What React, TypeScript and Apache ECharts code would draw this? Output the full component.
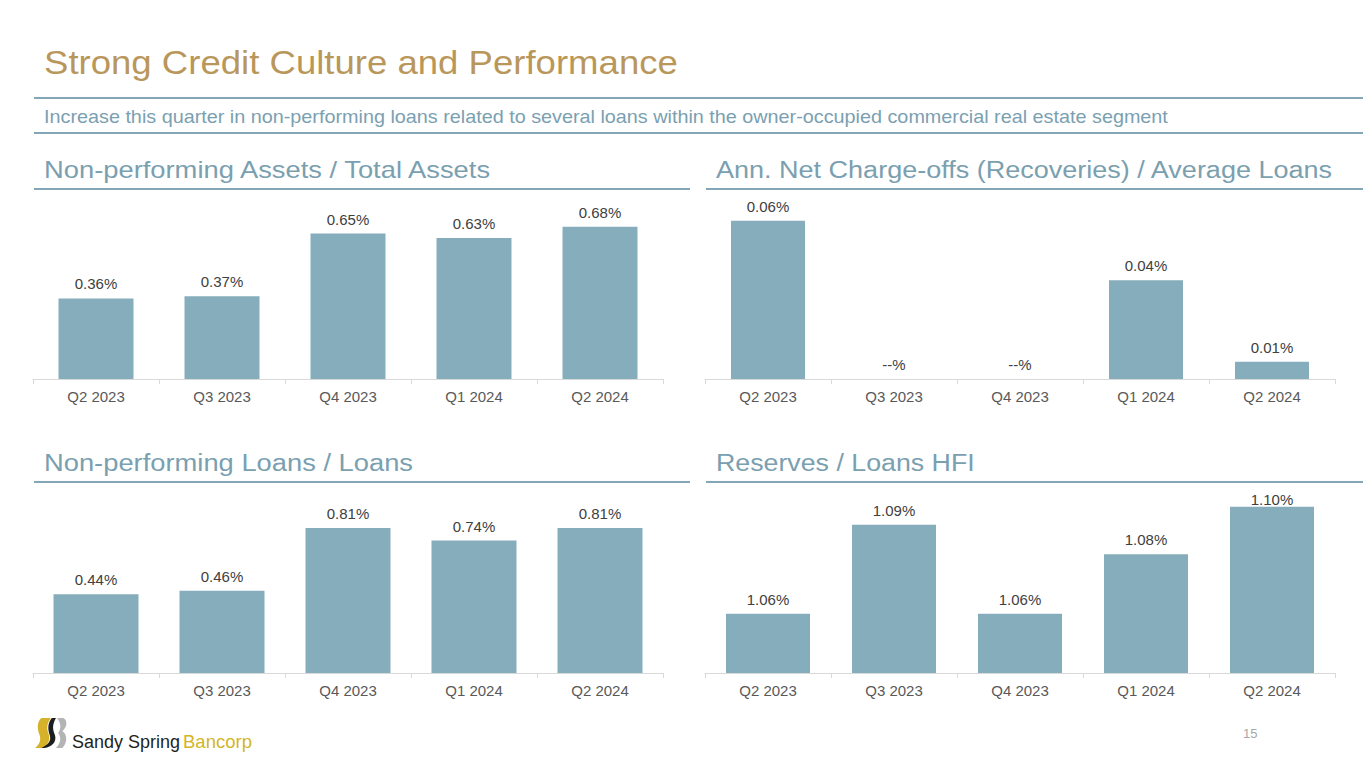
import React, { useEffect, useRef } from "react";
import * as echarts from "echarts";

const categories = ["Q2 2023", "Q3 2023", "Q4 2023", "Q1 2024", "Q2 2024"];
const npaValues = [0.36, 0.37, 0.65, 0.63, 0.68];
const ncoValues = [0.064, 0, 0, 0.04, 0.007];
const ncoLabels = ["0.06%", "--%", "--%", "0.04%", "0.01%"];
const nplValues = [0.44, 0.46, 0.81, 0.74, 0.81];
const reserveValues = [1.06, 1.09, 1.06, 1.08, 1.096];
const reserveLabels = ["1.06%", "1.09%", "1.06%", "1.08%", "1.10%"];

const pageTitle = "Strong Credit Culture and Performance";
const pageSubtitle =
  "Increase this quarter in non-performing loans related to several loans within the owner-occupied commercial real estate segment";
const chartTitles = [
  "Non-performing Assets / Total Assets",
  "Ann. Net Charge-offs (Recoveries) / Average Loans",
  "Non-performing Loans / Loans",
  "Reserves / Loans HFI",
];

const FONT = "'Liberation Sans', Arial, sans-serif";
const BAR = "#86ADBB";
const RULE = "#84A7B8";
const HEAD = "#7AA0B0";

function fitScale(text: string, size: number, target: number): number {
  const c = document.createElement("canvas").getContext("2d");
  if (!c) return 1;
  c.font = `${size}px ${FONT}`;
  const w = c.measureText(text).width;
  return w > 0 ? target / w : 1;
}

echarts.graphic.registerShape(
  "ssGold",
  echarts.graphic.extendPath(
    "M 6 0 L 15 0 C 11 6 11 11 13 16 C 15 22 12 27 8 30 L 0 30 C 5 26 6 21 4 16 C 2 10 2 4 6 0 Z",
    {}
  )
);
echarts.graphic.registerShape(
  "ssBlack",
  echarts.graphic.extendPath(
    "M 16 0 L 20 0 C 16 7 17 12 19 17 C 21 24 16 29 9 30 L 6 30 C 12 27 16 23 14 17 C 12 11 12 5 16 0 Z",
    {}
  )
);
echarts.graphic.registerShape(
  "ssGray",
  echarts.graphic.extendPath(
    "M 21 0 L 27 0 C 31 2 31 9 26 13 C 31 16 31 25 26 30 L 20 30 C 25 25 25 19 22 15 C 25 11 25 5 21 0 Z",
    {}
  )
);

function headText(text: string, x: number, y: number, size: number, color: string, target: number) {
  return {
    type: "text",
    x,
    y,
    scaleX: fitScale(text, size, target),
    style: {
      text,
      fill: color,
      fontSize: size,
      fontFamily: FONT,
      align: "left",
      verticalAlign: "middle",
    },
  };
}

function rule(x1: number, x2: number, y: number) {
  return {
    type: "line",
    shape: { x1, y1: y, x2, y2: y },
    style: { stroke: RULE, lineWidth: 2 },
  };
}

export default function App() {
  const ref = useRef<HTMLDivElement>(null);

  useEffect(() => {
    document.body.style.margin = "0";
    if (!ref.current) return;
    const chart = echarts.init(ref.current, null, { renderer: "svg" });

    const grids = [
      { left: 33, top: 200, width: 630, height: 179 },
      { left: 705, top: 206, width: 630, height: 173 },
      { left: 33, top: 494, width: 630, height: 179 },
      { left: 705, top: 495, width: 630, height: 178 },
    ];
    const yRanges = [
      { min: 0, max: 0.8 },
      { min: 0, max: 0.07 },
      { min: 0, max: 1.0 },
      { min: 1.04, max: 1.1 },
    ];
    const barWidths = [75, 74, 85, 84];

    const pct = (v: number) => v.toFixed(2) + "%";
    const seriesDefs = [
      { values: npaValues, labels: npaValues.map(pct) },
      { values: ncoValues, labels: ncoLabels },
      { values: nplValues, labels: nplValues.map(pct) },
      { values: reserveValues, labels: reserveLabels },
    ];

    const option: any = {
      animation: false,
      grid: grids.map((g) => ({ ...g, containLabel: false })),
      xAxis: grids.map((_, i) => ({
        type: "category",
        gridIndex: i,
        data: categories,
        axisLine: { show: true, lineStyle: { color: "#D9D9D9", width: 1 } },
        axisTick: { show: true, length: 5, lineStyle: { color: "#D9D9D9" } },
        axisLabel: { color: "#595959", fontSize: 15, fontFamily: FONT, margin: 10 },
      })),
      yAxis: yRanges.map((r, i) => ({
        type: "value",
        gridIndex: i,
        min: r.min,
        max: r.max,
        show: false,
        splitLine: { show: false },
      })),
      series: seriesDefs.map((s, i) => ({
        type: "bar",
        xAxisIndex: i,
        yAxisIndex: i,
        barWidth: barWidths[i],
        itemStyle: { color: BAR },
        data: s.values.map((v, j) =>
          i === 3 && j === 4 ? { value: v, label: { distance: 0 } } : v
        ),
        label: {
          show: true,
          position: "top",
          distance: 7,
          color: "#404040",
          fontSize: 15,
          fontFamily: FONT,
          formatter: (p: any) => s.labels[p.dataIndex],
        },
      })),
      graphic: [
        headText(pageTitle, 44, 62, 33, "#B9975B", 634),
        rule(34, 1363, 98),
        headText(pageSubtitle, 44, 117, 18, "#7BA0B1", 1125),
        rule(34, 1363, 133),
        headText(chartTitles[0], 44, 170, 23, HEAD, 450),
        headText(chartTitles[1], 716, 170, 23, HEAD, 618),
        rule(34, 690, 189),
        rule(706, 1363, 189),
        headText(chartTitles[2], 44, 463, 23, HEAD, 369),
        headText(chartTitles[3], 716, 463, 23, HEAD, 259),
        rule(34, 690, 482),
        rule(706, 1363, 482),
        {
          type: "group",
          x: 35,
          y: 718,
          scaleX: 1.05,
          children: [
            { type: "ssGold", style: { fill: "#D6B22A" } },
            { type: "ssBlack", style: { fill: "#1E1E1E" } },
            { type: "ssGray", style: { fill: "#B4B4B4" } },
          ],
        },
        headText("Sandy Spring", 72, 742, 18, "#231F20", 108),
        headText("Bancorp", 183, 742, 18, "#D4B526", 69),
        {
          type: "text",
          x: 1243,
          y: 733,
          style: {
            text: "15",
            fill: "#A6A6A6",
            fontSize: 13,
            fontFamily: FONT,
            verticalAlign: "middle",
          },
        },
      ],
    };

    chart.setOption(option);
    return () => chart.dispose();
  }, []);

  return <div ref={ref} style={{ width: 1365, height: 768, background: "#fff" }} />;
}
